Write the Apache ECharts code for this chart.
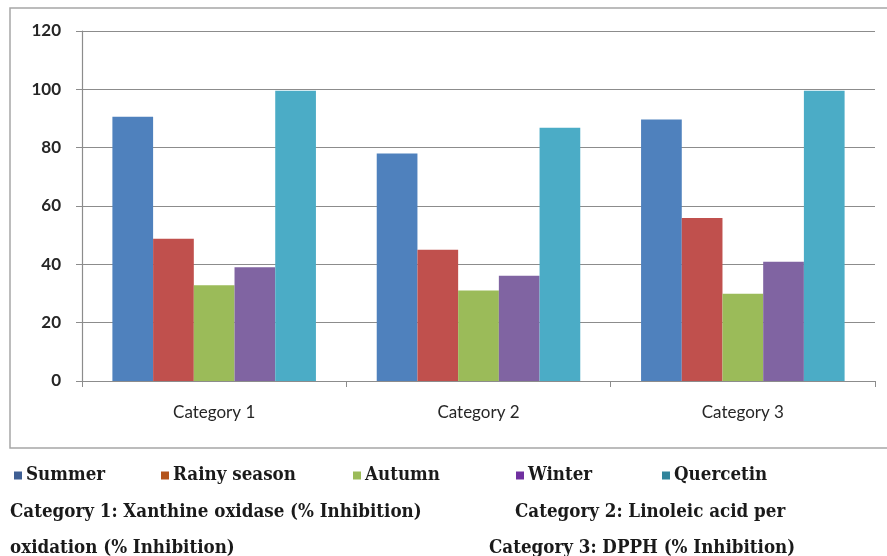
<!DOCTYPE html>
<html>
<head>
<meta charset="utf-8">
<script src="https://cdn.jsdelivr.net/npm/echarts@6/dist/echarts.min.js"></script>
<style>
  html, body { margin: 0; padding: 0; background: #fff; }
  #chart { width: 887px; height: 556px; }
</style>
</head>
<body>
<div id="chart"></div>
<script>
// Inhibition activity per season, compared with quercetin
const categories = ['Category 1', 'Category 2', 'Category 3'];
const seriesNames = ['Summer', 'Rainy season', 'Autumn', 'Winter', 'Quercetin'];
const summer = [90.6, 78.0, 89.7];
const rainySeason = [48.8, 45.0, 55.9];
const autumn = [32.8, 31.0, 29.9];
const winter = [39.0, 36.1, 40.9];
const quercetin = [99.5, 86.8, 99.5];
const yTicks = [0, 20, 40, 60, 80, 100, 120];
const notes = [
  'Category 1: Xanthine oxidase (% Inhibition)',
  'Category 2: Linoleic acid per',
  'oxidation (% Inhibition)',
  'Category 3: DPPH (% Inhibition)'
];

const values = [summer, rainySeason, autumn, winter, quercetin];
const barColors = ['#4f81bd', '#c0504d', '#9bbb59', '#8064a2', '#4bacc6'];
const keyColors = ['#3f5f94', '#b4531a', '#9bbb59', '#7030a0', '#31849b'];
const legendLeft = [9, 156, 348, 511, 657];

const serifFont = '"DejaVu Serif Condensed", "Liberation Serif", serif';
const serifSize = 18.6;
const noteFont = 'bold ' + serifSize + 'px ' + serifFont;
const sansFont = 'Lato, "Open Sans", sans-serif';

const chart = echarts.init(document.getElementById('chart'));
chart.setOption({
  animation: false,
  backgroundColor: '#fff',
  grid: { left: 82, right: 12, top: 31, bottom: 175, containLabel: false },
  xAxis: {
    type: 'category',
    data: categories,
    axisLine: { lineStyle: { color: '#8c8c8c', width: 1.2 } },
    axisTick: { show: true, length: 6, lineStyle: { color: '#8c8c8c' } },
    axisLabel: { color: '#262626', fontSize: 17, fontFamily: sansFont, margin: 23 }
  },
  yAxis: {
    type: 'value',
    min: 0, max: 120, interval: 20,
    axisLine: { show: true, lineStyle: { color: '#8c8c8c', width: 1.2 } },
    axisTick: { show: true, length: 6, lineStyle: { color: '#8c8c8c' } },
    axisLabel: {
      color: '#262626', fontSize: 17, fontWeight: 'bold', fontFamily: sansFont, margin: 21,
      formatter: v => yTicks.includes(v) ? String(v) : ''
    },
    splitLine: { lineStyle: { color: '#8c8c8c', width: 1.2 } }
  },
  legend: seriesNames.map((name, i) => ({
    left: legendLeft[i], top: 461,
    icon: 'rect', itemWidth: 8, itemHeight: 8, itemGap: 4,
    data: [{ name: name, itemStyle: { color: keyColors[i] } }],
    textStyle: { fontFamily: serifFont, fontWeight: 'bold', fontSize: serifSize, color: '#1a1a1a', padding: [0, 0, 0, -1] }
  })),
  graphic: [
    {
      type: 'rect', silent: true,
      shape: { x: 10, y: 8, width: 890, height: 440 },
      style: { fill: 'none', stroke: '#a6a6a6', lineWidth: 1.5 }
    },
    { type: 'text', left: 10, top: 503, style: { text: notes[0], font: noteFont, fill: '#1a1a1a' } },
    { type: 'text', left: 515, top: 503, style: { text: notes[1], font: noteFont, fill: '#1a1a1a' } },
    { type: 'text', left: 10, top: 539, style: { text: notes[2], font: noteFont, fill: '#1a1a1a' } },
    { type: 'text', left: 489, top: 539, style: { text: notes[3], font: noteFont, fill: '#1a1a1a' } }
  ],
  series: seriesNames.map((name, i) => ({
    name: name,
    type: 'bar',
    data: values[i],
    barGap: '0%',
    barCategoryGap: '23%',
    itemStyle: { color: barColors[i] }
  }))
});
</script>
</body>
</html>
